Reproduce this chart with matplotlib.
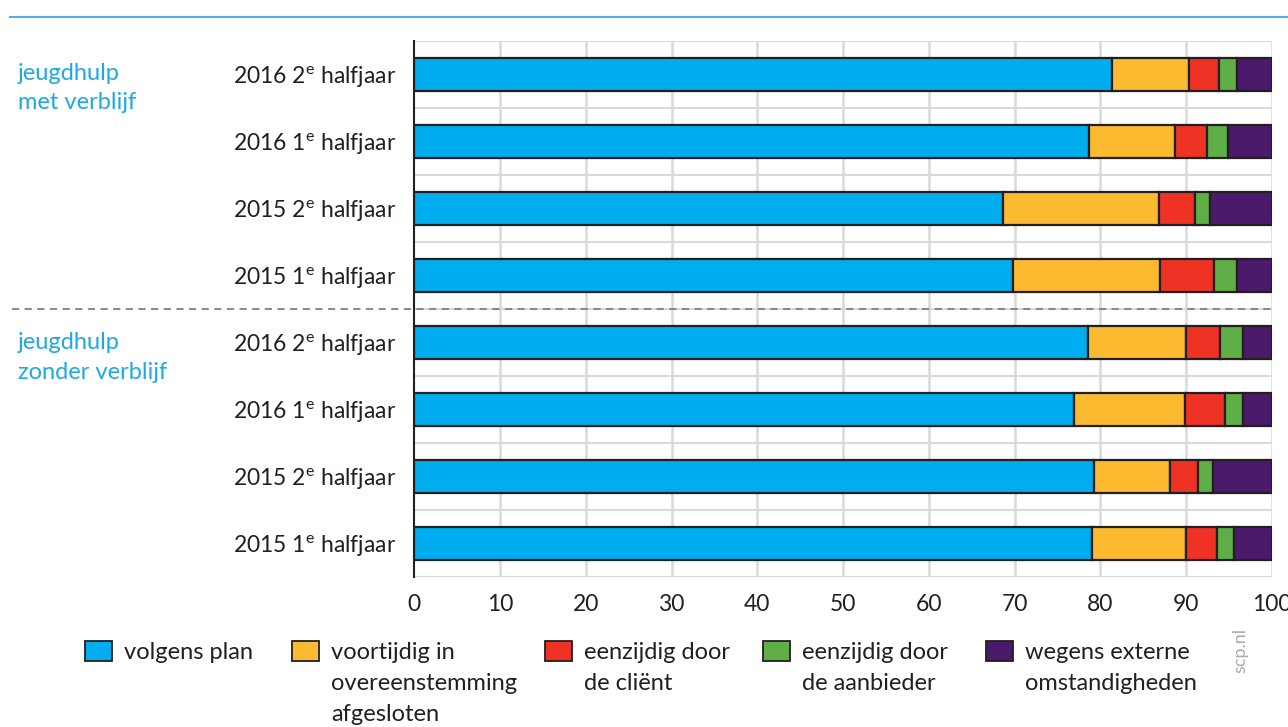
import matplotlib
matplotlib.use("Agg")
import matplotlib.pyplot as plt
import matplotlib.transforms as mtransforms
from matplotlib.patches import Rectangle
from matplotlib.lines import Line2D
import numpy as np

plt.rcParams['font.family'] = ['Lato', 'DejaVu Sans']
plt.rcParams['mathtext.fontset'] = 'custom'
plt.rcParams['mathtext.rm'] = 'Lato'

categories = ["2016 2$^{\\mathrm{e}}$ halfjaar", "2016 1$^{\\mathrm{e}}$ halfjaar",
              "2015 2$^{\\mathrm{e}}$ halfjaar", "2015 1$^{\\mathrm{e}}$ halfjaar",
              "2016 2$^{\\mathrm{e}}$ halfjaar", "2016 1$^{\\mathrm{e}}$ halfjaar",
              "2015 2$^{\\mathrm{e}}$ halfjaar", "2015 1$^{\\mathrm{e}}$ halfjaar"]
groups = ["jeugdhulp\nmet verblijf", "jeugdhulp\nzonder verblijf"]

volgens_plan = [81.4, 78.7, 68.7, 69.8, 78.6, 76.9, 79.3, 79.0]
voortijdig = [9.0, 10.0, 18.2, 17.2, 11.4, 13.0, 8.8, 11.0]
eenzijdig_client = [3.4, 3.7, 4.1, 6.3, 4.0, 4.6, 3.3, 3.6]
eenzijdig_aanbieder = [2.2, 2.5, 1.8, 2.6, 2.6, 2.2, 1.7, 2.0]
extern = [4.0, 5.1, 7.2, 4.1, 3.4, 3.3, 6.9, 4.4]

series = [volgens_plan, voortijdig, eenzijdig_client, eenzijdig_aanbieder, extern]
series_labels = ["volgens plan", "voortijdig in\novereenstemming\nafgesloten",
                 "eenzijdig door\nde cliënt", "eenzijdig door\nde aanbieder",
                 "wegens externe\nomstandigheden"]
colors = ["#00AEEF", "#FBBA2F", "#EE3224", "#60AE47", "#4B1A6B"]
edge = "#231F20"
text_col = "#231F20"
blue_txt = "#1FA9E1"
grid_col = "#D9D9D9"

W, H = 1288, 727
fig = plt.figure(figsize=(W / 100, H / 100), dpi=100)
ax = fig.add_axes([0.3217, 0.2063, 0.9874 - 0.3217, 0.9436 - 0.2063])

y = np.arange(len(categories))
left = np.zeros(len(categories))
for vals, c in zip(series, colors):
    ax.barh(y, vals, left=left, height=0.5, color=c, edgecolor=edge, linewidth=1.6, zorder=3)
    left += np.array(vals)

ax.set_xlim(0, 100)
ax.set_ylim(7.5, -0.5)
ax.set_xticks(np.arange(0, 101, 10))
ax.set_yticks(y)
ax.set_yticklabels(categories)
for g in np.arange(-0.5, 7.51, 0.25):
    ax.axhline(g, color=grid_col, lw=1.5, zorder=1)
for gx in np.arange(10, 101, 10):
    ax.axvline(gx, color=grid_col, lw=1.8, zorder=1)

for s in ["top", "right", "bottom"]:
    ax.spines[s].set_visible(False)
ax.spines["left"].set_color(edge)
ax.spines["left"].set_linewidth(1.5)
ax.spines["left"].set_zorder(5)
ax.tick_params(axis="both", length=0, labelsize=16.5, colors=text_col)
ax.tick_params(axis="y", pad=13)
ax.tick_params(axis="x", pad=12)

tr = mtransforms.blended_transform_factory(fig.transFigure, ax.transData)
fig.add_artist(Line2D([12 / W, 1272 / W], [3.5, 3.5], transform=tr,
                      color="#808080", lw=1.3, ls=(0, (4, 3))))

fig.add_artist(Line2D([10 / W, 1.0], [1 - 17 / H, 1 - 17 / H],
                      transform=fig.transFigure, color="#4DB3E6", lw=1.5))


def multiline(x, y0, text, dy, **kw):
    for i, line in enumerate(text.split("\n")):
        fig.text(x / W, 1 - (y0 + i * dy) / H, line, va="baseline", ha="left", **kw)


multiline(18, 80, groups[0], 29, color=blue_txt, fontsize=17)
multiline(18, 349, groups[1], 30, color=blue_txt, fontsize=17)

leg_x = [85, 292, 545, 763, 986]
for lx, lab, c in zip(leg_x, series_labels, colors):
    fig.add_artist(Rectangle((lx / W, 1 - 661 / H), 27 / W, 20 / H,
                             transform=fig.transFigure, facecolor=c,
                             edgecolor=edge, lw=1.3))
    multiline(lx + 39, 659, lab, 31, color=text_col, fontsize=17)

fig.text(1240 / W, 1 - 650 / H, "scp.nl", color="#AAAAAA", fontsize=13,
         rotation=90, ha="center", va="center")

fig.savefig("out.png", dpi=100)
